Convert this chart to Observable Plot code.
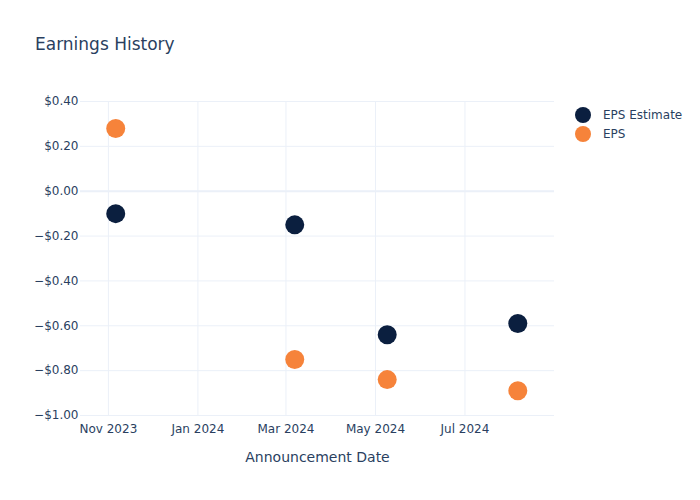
<!DOCTYPE html>
<html>
<head>
<meta charset="utf-8">
<script src="https://cdn.jsdelivr.net/npm/d3@7"></script>
<script src="https://cdn.jsdelivr.net/npm/@observablehq/plot@0.6"></script>
<style>
  html, body { margin: 0; padding: 0; background: #fff; }
  #wrap { position: relative; width: 700px; height: 500px; font-family: "DejaVu Sans", sans-serif; color: #2a3f5f; }
  #title { position: absolute; left: 35px; top: 33px; font-size: 17px; line-height: 22px; white-space: nowrap; }
  #legend { position: absolute; left: 575px; top: 105px; font-size: 12px; }
  .li { display: flex; align-items: center; height: 19px; white-space: nowrap; }
  .sw { width: 16px; height: 16px; border-radius: 50%; margin-right: 12px; }
  #chart { position: absolute; left: 0; top: 0; }
</style>
</head>
<body>
<div id="wrap">
  <div id="chart"></div>
  <div id="title">Earnings History</div>
  <div id="legend"></div>
</div>
<script>
const dates = ["2023-11-06", "2024-03-07", "2024-05-09", "2024-08-06"];
const epsEstimate = [-0.10, -0.15, -0.64, -0.59];
const epsActual = [0.28, -0.75, -0.84, -0.89];
const seriesNames = ["EPS Estimate", "EPS"];
const seriesColors = ["#0b1f3f", "#f6833a"];
const yTicks = [0.4, 0.2, 0, -0.2, -0.4, -0.6, -0.8, -1.0];
const xTicks = ["2023-11-01", "2024-01-01", "2024-03-01", "2024-05-01", "2024-07-01"];
const xDomain = ["2023-10-13", "2024-08-31"];

const parse = d3.utcParse("%Y-%m-%d");
const rows = [];
dates.forEach((d, i) => {
  rows.push({date: parse(d), value: epsEstimate[i], series: seriesNames[0]});
});
dates.forEach((d, i) => {
  rows.push({date: parse(d), value: epsActual[i], series: seriesNames[1]});
});

const fmtY = d => (d < -1e-9 ? "\u2212" : "") + "$" + Math.abs(d).toFixed(2);
const fmtX = d3.utcFormat("%b %Y");

const plot = Plot.plot({
  width: 700,
  height: 500,
  marginLeft: 80,
  marginRight: 146,
  marginTop: 101,
  marginBottom: 85,
  style: {fontFamily: "DejaVu Sans, sans-serif", fontSize: "12px", color: "#2a3f5f", background: "#fff"},
  x: {type: "utc", domain: xDomain.map(parse), ticks: xTicks.map(parse), tickFormat: fmtX, tickSize: 0, tickPadding: 9, label: null},
  y: {domain: [-1.0, 0.4], ticks: yTicks, tickFormat: fmtY, tickSize: 0, tickPadding: 2, label: null},
  color: {domain: seriesNames, range: seriesColors},
  marks: [
    Plot.gridX(xTicks.map(parse), {stroke: "#ebf0f8", strokeOpacity: 1, strokeWidth: 1}),
    Plot.gridY(yTicks, {stroke: "#ebf0f8", strokeOpacity: 1, strokeWidth: 1}),
    Plot.ruleY([0], {stroke: "#ebf0f8", strokeWidth: 2}),
    Plot.axisX({ticks: xTicks.map(parse), tickFormat: fmtX, tickSize: 0, tickPadding: 9, fill: "#2a3f5f", fontSize: 12, label: null}),
    Plot.axisY({ticks: yTicks, tickFormat: fmtY, tickSize: 0, tickPadding: 2, fill: "#2a3f5f", fontSize: 12, label: null}),
    Plot.dot(rows, {x: "date", y: "value", fill: "series", r: 9.5, stroke: "none"}),
    Plot.text(["Announcement Date"], {frameAnchor: "bottom", dy: 42, fontSize: 14, fill: "#2a3f5f", lineAnchor: "middle"})
  ]
});
document.getElementById("chart").appendChild(plot);

const legend = document.getElementById("legend");
seriesNames.forEach((n, i) => {
  const li = document.createElement("div");
  li.className = "li";
  const sw = document.createElement("span");
  sw.className = "sw";
  sw.style.background = seriesColors[i];
  const tx = document.createElement("span");
  tx.textContent = n;
  li.appendChild(sw);
  li.appendChild(tx);
  legend.appendChild(li);
});
</script>
</body>
</html>
